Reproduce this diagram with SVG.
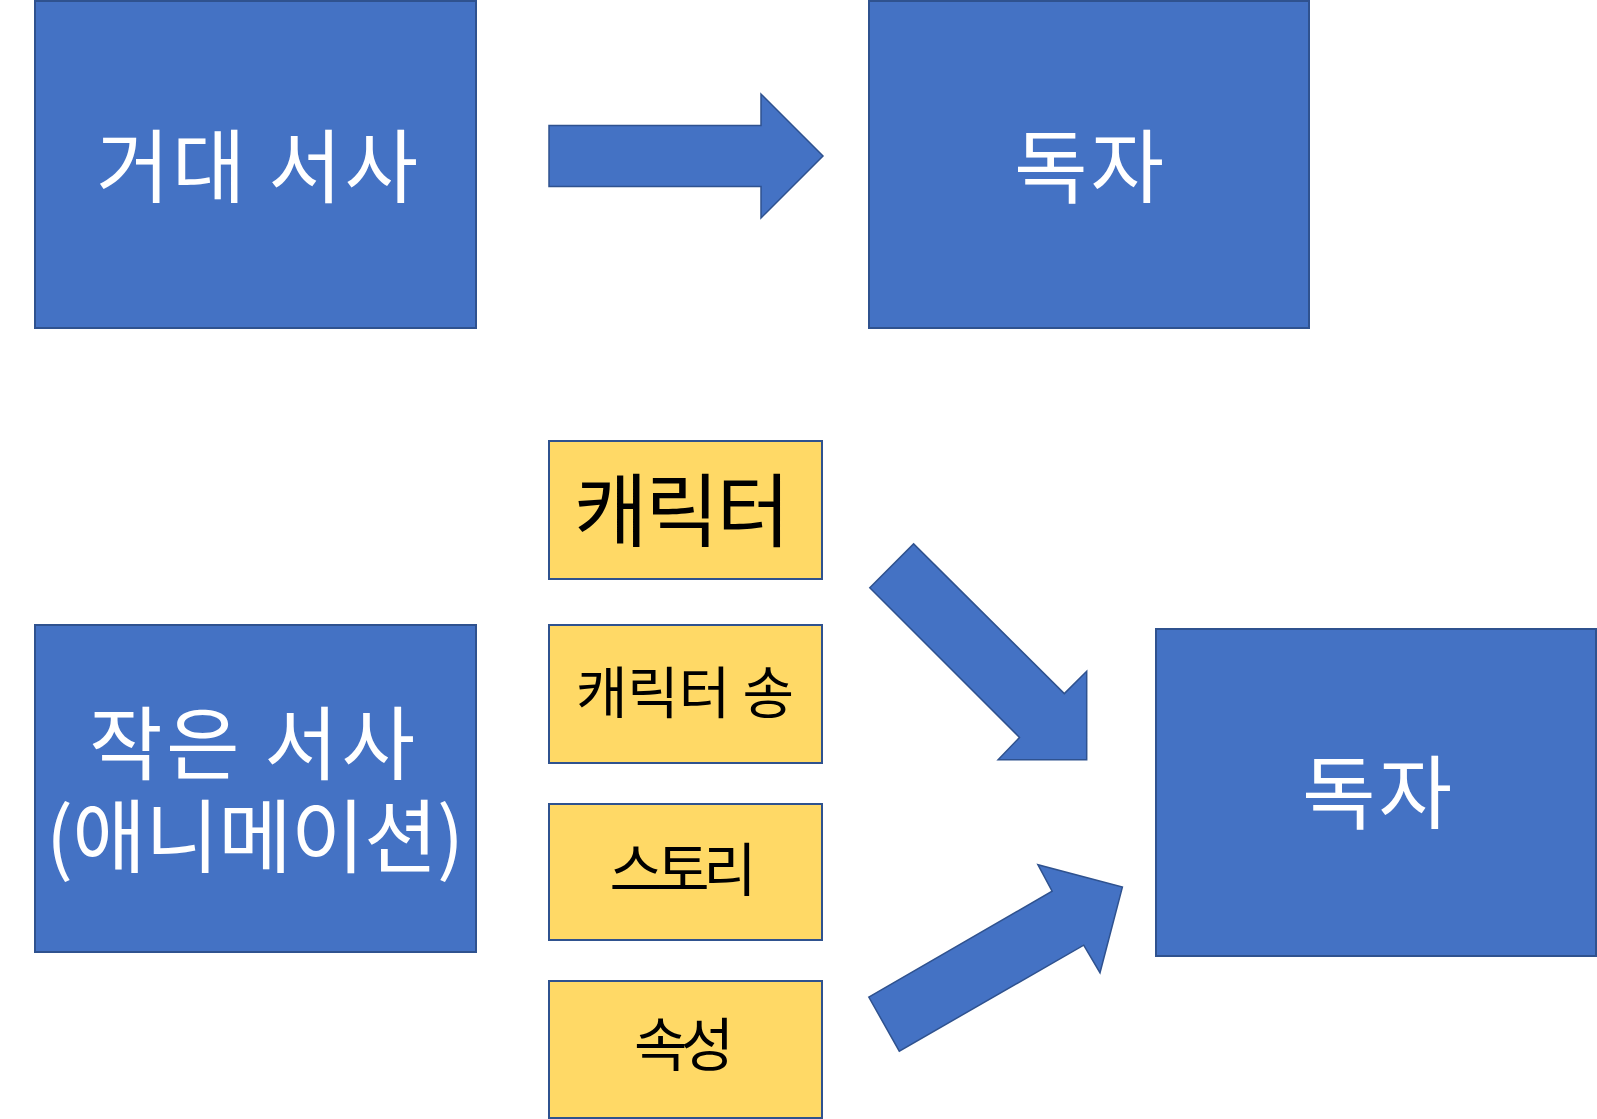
<svg xmlns="http://www.w3.org/2000/svg" width="1597" height="1119" viewBox="0 0 1597 1119">
<style>
.blue{fill:#4472C4;stroke:#2F528F;stroke-width:2}
.yel{fill:#FFD966;stroke:#2F528F;stroke-width:2}
.arr{fill:#4472C4;stroke:#2F528F;stroke-width:1.5}
.tw{fill:#FFFFFF;font-family:"Noto Sans CJK KR","Noto Sans",sans-serif;text-anchor:middle}
.tb{fill:#000000;font-family:"Noto Sans CJK KR","Noto Sans",sans-serif;text-anchor:middle}
</style>
<rect width="1597" height="1119" fill="#FFFFFF"/>
<g id="node-grand">
<rect class="blue" x="35" y="1" width="441" height="327"/>
<text class="tw" x="257" y="196" font-size="80" textLength="322" lengthAdjust="spacing">거대 서사</text>
</g>
<g id="node-reader-top">
<rect class="blue" x="869" y="1" width="440" height="327"/>
<text class="tw" x="1089" y="196" font-size="80" textLength="150" lengthAdjust="spacing">독자</text>
</g>
<g id="node-small">
<rect class="blue" x="35" y="625" width="441" height="327"/>
<text class="tw" font-size="80"><tspan x="252" y="773" textLength="326" lengthAdjust="spacing">작은 서사</tspan><tspan x="255" y="866" textLength="418" lengthAdjust="spacing">(애니메이션)</tspan></text>
</g>
<g id="node-reader-bottom">
<rect class="blue" x="1156" y="629" width="440" height="327"/>
<text class="tw" x="1377" y="822" font-size="80" textLength="150" lengthAdjust="spacing">독자</text>
</g>
<g id="node-character">
<rect class="yel" x="549" y="441" width="273" height="138"/>
<text class="tb" x="682" y="540" font-size="80" textLength="216" lengthAdjust="spacing">캐릭터</text>
</g>
<g id="node-song">
<rect class="yel" x="549" y="625" width="273" height="138"/>
<text class="tb" x="685" y="713" font-size="56" textLength="218" lengthAdjust="spacing">캐릭터 송</text>
</g>
<g id="node-story">
<rect class="yel" x="549" y="804" width="273" height="136"/>
<text class="tb" x="683" y="891" font-size="58" textLength="147" lengthAdjust="spacing">스토리</text>
</g>
<g id="node-attr">
<rect class="yel" x="549" y="981" width="273" height="137"/>
<text class="tb" x="684" y="1066" font-size="58" textLength="100" lengthAdjust="spacing">속성</text>
</g>
<g id="connectors">
<polygon class="arr" points="549,125.5 761,125.5 761,94 823,156 761,218 761,186.5 549,186.5"/>
<polygon class="arr" points="913.6,543.9 1064.3,693.6 1086.7,671.2 1086.7,759.8 998.1,759.8 1019.5,737.4 869.8,587.7"/>
<polygon class="arr" points="868.8,997.1 1052.1,891.2 1037.9,864.7 1122.4,887.1 1100,972.7 1083.7,945.2 899.3,1051.1"/>
</g>
</svg>
